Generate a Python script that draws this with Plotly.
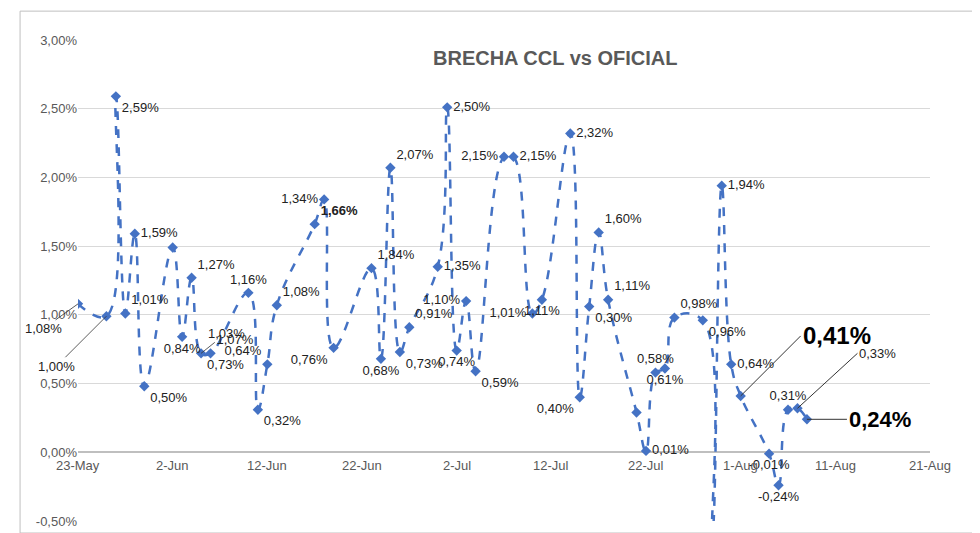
import plotly.graph_objects as go

dates = ["2023-05-23","2023-05-26","2023-05-27","2023-05-28","2023-05-29","2023-05-30",
         "2023-06-02","2023-06-03","2023-06-04","2023-06-05","2023-06-06",
         "2023-06-10","2023-06-11","2023-06-12","2023-06-13",
         "2023-06-17","2023-06-18","2023-06-19",
         "2023-06-23","2023-06-24","2023-06-25","2023-06-26","2023-06-27",
         "2023-06-30","2023-07-01","2023-07-02","2023-07-03","2023-07-04",
         "2023-07-07","2023-07-08","2023-07-10","2023-07-11",
         "2023-07-14","2023-07-15","2023-07-16","2023-07-17","2023-07-18",
         "2023-07-21","2023-07-22","2023-07-23","2023-07-24","2023-07-25",
         "2023-07-28","2023-07-29","2023-07-30","2023-07-31","2023-08-01",
         "2023-08-04","2023-08-05","2023-08-06","2023-08-07","2023-08-08"]
values = [1.08,0.99,2.59,1.01,1.59,0.48,
          1.49,0.84,1.27,0.72,0.72,
          1.16,0.31,0.64,1.07,
          1.66,1.84,0.76,
          1.34,0.68,2.07,0.73,0.91,
          1.35,2.51,0.74,1.10,0.59,
          2.15,2.15,1.01,1.11,
          2.32,0.40,1.06,1.60,1.11,
          0.29,0.01,0.58,0.61,0.98,
          0.96,-0.60,1.94,0.64,0.41,
          -0.01,-0.24,0.31,0.32,0.24]
labels = ["","","2,59%","1,01%","1,59%","0,50%",
          "","0,84%","1,27%","0,73%","1,07%",
          "1,16%","0,32%","0,64%","1,08%",
          "<b>1,66%</b>","1,34%","0,76%",
          "1,84%","0,68%","2,07%","0,73%","0,91%",
          "1,35%","2,50%","0,74%","1,10%","0,59%",
          "2,15%","2,15%","1,01%","1,11%",
          "2,32%","0,40%","0,30%","1,60%","1,11%",
          "","0,01%","0,58%","0,61%","0,98%",
          "0,96%","","1,94%","0,64%","",
          "-0,01%","-0,24%","0,31%","",""]
positions = ["bottom left","bottom left","bottom right","top right","middle right","bottom right",
             "top right","bottom center","top right","bottom right","top right",
             "top center","bottom right","top left","top right",
             "top right","middle left","bottom left",
             "top right","bottom center","top right","bottom right","top right",
             "middle right","middle right","bottom center","middle left","bottom right",
             "middle left","middle right","middle left","bottom center",
             "middle right","bottom left","bottom right","top right","top right",
             "bottom right","middle right","top center","bottom center","top right",
             "bottom right","top right","middle right","middle right","top right",
             "bottom center","bottom center","top center","top right","middle right"]
xticks = ["2023-05-23","2023-06-02","2023-06-12","2023-06-22","2023-07-02","2023-07-12",
          "2023-07-22","2023-08-01","2023-08-11","2023-08-21"]
xticklabels = ["23-May","2-Jun","12-Jun","22-Jun","2-Jul","12-Jul","22-Jul","1-Aug","11-Aug","21-Aug"]
yticks = [-0.5,0,0.5,1.0,1.5,2.0,2.5,3.0]
yticklabels = ["-0,50%","0,00%","0,50%","1,00%","1,50%","2,00%","2,50%","3,00%"]

blue = "#4472C4"
fig = go.Figure(go.Scatter(
    x=dates, y=values, mode="lines+markers+text", text=labels, textposition=positions,
    textfont=dict(size=13, color="#222"), cliponaxis=True,
    line=dict(color=blue, width=2.5, dash="dash", shape="spline", smoothing=1.2),
    marker=dict(symbol="diamond", size=8, color=blue)))

for t, lab in zip(xticks, xticklabels):
    fig.add_annotation(x=t, y=0, text=lab, showarrow=False, yanchor="top", yshift=-4,
                       font=dict(size=13, color="#595959"))

arrow_labels = [("2023-05-23", 1.08, -35, 25, "1,08%"), ("2023-05-26", 0.99, -50, 50, "1,00%"),
                ("2023-06-05", 0.72, 25, -20, "1,03%"), ("2023-07-21", 0.29, 0, 0, ""),
                ("2023-07-22", 0.01, 40, -10, "")]
for x, y, ax, ay, txt in arrow_labels:
    if txt:
        fig.add_annotation(x=x, y=y, ax=ax, ay=ay, text=txt, showarrow=True, arrowhead=0,
                           arrowcolor="#333", arrowwidth=0.8, font=dict(size=13, color="#222"))

fig.add_annotation(x="2023-08-01", y=0.41, ax=60, ay=-60, text="<b>0,41%</b>",
                   font=dict(size=24, color="#000"), showarrow=True, arrowhead=0,
                   arrowcolor="#333", xanchor="left")
fig.add_annotation(x="2023-08-08", y=0.24, ax=40, ay=0, text="<b>0,24%</b>",
                   font=dict(size=22, color="#000"), showarrow=True, arrowhead=0,
                   arrowcolor="#333", xanchor="left")
fig.add_annotation(x="2023-08-07", y=0.32, ax=60, ay=-55, text="0,33%",
                   font=dict(size=13, color="#222"), showarrow=True, arrowhead=0,
                   arrowcolor="#333", xanchor="left")
fig.add_annotation(xref="paper", yref="paper", x=0.56, y=0.99, text="<b>BRECHA CCL vs OFICIAL</b>",
                   showarrow=False, font=dict(size=20, color="#595959"))
fig.add_shape(type="rect", xref="paper", yref="paper", x0=-0.068, x1=1.05, y0=-0.025, y1=1.06,
              line=dict(color="#BFBFBF", width=1))

fig.update_layout(
    width=980, height=533, plot_bgcolor="white", paper_bgcolor="white",
    margin=dict(l=70, r=58, t=32, b=20), showlegend=False,
    font=dict(family="Liberation Sans", color="#595959", size=13),
    xaxis=dict(range=["2023-05-23","2023-08-21"], tickvals=xticks, showticklabels=False,
               showgrid=False, zeroline=False, showline=False, ticks=""),
    yaxis=dict(range=[-0.5,3.0], tickvals=yticks, ticktext=yticklabels, showgrid=True,
               gridcolor="#D9D9D9", zeroline=True, zerolinecolor="#BFBFBF", ticks=""),
)
fig.write_html("out.html")
